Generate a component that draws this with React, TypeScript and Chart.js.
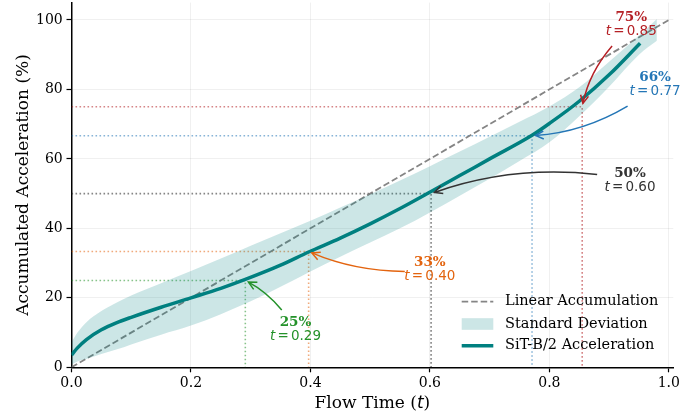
import { useEffect, useRef } from "react";
import { Chart, registerables } from "chart.js";

Chart.register(...registerables);

// ---------------- data ----------------
const curveT = [0, 0.01, 0.025, 0.05, 0.075, 0.1, 0.15, 0.2, 0.25, 0.291, 0.35, 0.397, 0.45, 0.5, 0.55, 0.602, 0.65, 0.7, 0.771, 0.8, 0.85, 0.9, 0.952];
const curveY = [3.5, 5.6, 8.0, 10.8, 12.8, 14.4, 17.3, 20.0, 22.75, 25.3, 29.4, 33.2, 37.2, 41.3, 45.7, 50.6, 55.2, 60.0, 66.8, 70.2, 76.6, 84.2, 93.3];

const bandT = [0, 0.01, 0.025, 0.05, 0.075, 0.1, 0.15, 0.2, 0.25, 0.3, 0.35, 0.4, 0.45, 0.5, 0.55, 0.6, 0.65, 0.7, 0.75, 0.8, 0.85, 0.9, 0.95, 0.98];
const bandUpper = [7.2, 10, 13, 16.2, 18.6, 20.7, 24.2, 27.7, 31.3, 35, 38.6, 42.2, 46, 49.8, 53.8, 57.9, 62.1, 66.4, 70.7, 75.1, 80.6, 88, 95.5, 100.3];
const bandLower = [0.8, 1.7, 2.4, 3.8, 5.1, 6.6, 9.4, 12.0, 15.3, 19.0, 23.2, 27.6, 31.8, 35.9, 40.0, 44.6, 49.4, 54.3, 59.4, 64.8, 72.3, 80.8, 90.0, 94.0];

const linearT = [0, 1];
const linearY = [0, 100];

const xTicks = [0, 0.2, 0.4, 0.6, 0.8, 1.0];
const yTicks = [0, 20, 40, 60, 80, 100];

const annPct = [25, 33.33, 50, 66.67, 75];
const annT = [0.291, 0.397, 0.602, 0.771, 0.855];
const annPctLabel = ["25%", "33%", "50%", "66%", "75%"];
const annTLabel = ["0.29", "0.40", "0.60", "0.77", "0.85"];

const seriesLabels = ["Linear Accumulation", "Standard Deviation", "SiT-B/2 Acceleration"];
const xTitleMain = "Flow Time (";
const xTitleVar = "t";
const xTitleEnd = ")";
const yTitle = "Accumulated Acceleration (%)";

// ---------------- styles / layout ----------------
const annColors = ["#24922a", "#e3640f", "#333333", "#2476b6", "#b52025"];
const annDotColors = [
  "rgba(36,146,42,0.55)",
  "rgba(227,100,15,0.55)",
  "rgba(51,51,51,0.6)",
  "rgba(36,118,182,0.55)",
  "rgba(181,32,37,0.55)",
];
const annTextX = [0.375, 0.6, 0.935, 0.977, 0.937];
const annTextY = [11, 28.3, 53.9, 81.4, 98.6];
const annTailX = [0.352, 0.558, 0.88, 0.931, 0.905];
const annTailY = [16.5, 27.6, 55.5, 75.2, 92.5];
const annRad = [0.1, -0.1, 0.115, -0.12, 0.13];

const TEAL = "#008080";
const BAND = "rgba(0,128,128,0.2)";
const DASH_GRAY = "rgba(120,120,120,0.9)";
const SERIF = '"DejaVu Serif", serif';
const SANS = '"DejaVu Sans", sans-serif';

const pts = (xs: number[], ys: number[]) => xs.map((x, i) => ({ x, y: ys[i] }));

const overlayPlugin = {
  id: "overlay",
  afterDatasetsDraw(chart: any) {
    const { ctx, chartArea, scales } = chart;
    const xs = scales.x;
    const ys = scales.y;
    ctx.save();

    // ---- annotations ----
    for (let i = 0; i < annPct.length; i++) {
      const color = annColors[i];
      const tx = xs.getPixelForValue(annTailX[i]);
      const ty = ys.getPixelForValue(annTailY[i]);
      const px = xs.getPixelForValue(annT[i]);
      const py = ys.getPixelForValue(annPct[i]);
      const dx = px - tx;
      const dy = py - ty;
      const cx = (tx + px) / 2 - annRad[i] * dy;
      const cy = (ty + py) / 2 + annRad[i] * dx;
      let ex = px - cx;
      let ey = py - cy;
      const el = Math.hypot(ex, ey);
      ex /= el;
      ey /= el;
      const hx = px - ex * 3.5;
      const hy = py - ey * 3.5;
      ctx.strokeStyle = color;
      ctx.lineWidth = 1.5;
      ctx.lineCap = "butt";
      ctx.beginPath();
      ctx.moveTo(tx, ty);
      ctx.quadraticCurveTo(cx, cy, hx, hy);
      ctx.stroke();
      const hl = 8;
      const hw = 4;
      ctx.beginPath();
      ctx.moveTo(hx - ex * hl - ey * hw, hy - ey * hl + ex * hw);
      ctx.lineTo(hx, hy);
      ctx.lineTo(hx - ex * hl + ey * hw, hy - ey * hl - ex * hw);
      ctx.stroke();

      const cxT = xs.getPixelForValue(annTextX[i]);
      const cyT = ys.getPixelForValue(annTextY[i]);
      ctx.fillStyle = color;
      ctx.textBaseline = "middle";
      ctx.textAlign = "center";
      ctx.font = `bold 13.5px ${SERIF}`;
      ctx.fillText(annPctLabel[i], cxT, cyT - 7);
      const fT = `italic 13.5px ${SANS}`;
      const fN = `13.5px ${SANS}`;
      ctx.font = fT;
      const wt = ctx.measureText("t").width;
      ctx.font = fN;
      const weq = ctx.measureText("=").width;
      const wn = ctx.measureText(annTLabel[i]).width;
      const gap = 2.2;
      const total = wt + gap + weq + gap + wn;
      let sx = cxT - total / 2;
      ctx.textAlign = "left";
      ctx.font = fT;
      ctx.fillText("t", sx, cyT + 7);
      sx += wt + gap;
      ctx.font = fN;
      ctx.fillText("=", sx, cyT + 7);
      sx += weq + gap;
      ctx.fillText(annTLabel[i], sx, cyT + 7);
    }

    // ---- legend ----
    const ds = chart.data.datasets;
    const lx0 = chartArea.right - 211.6;
    const lx1 = lx0 + 31.6;
    const ltx = lx0 + 43.3;
    const rows = [chartArea.bottom - 65.6, chartArea.bottom - 43.3, chartArea.bottom - 21.6];
    const entries = ds.filter((d: any) => d.legendKind);
    entries.forEach((d: any, k: number) => {
      const ry = rows[k];
      if (d.legendKind === "dash") {
        ctx.strokeStyle = d.borderColor;
        ctx.lineWidth = d.borderWidth;
        ctx.setLineDash(d.borderDash);
        ctx.beginPath();
        ctx.moveTo(lx0, ry);
        ctx.lineTo(lx1, ry);
        ctx.stroke();
        ctx.setLineDash([]);
      } else if (d.legendKind === "patch") {
        ctx.fillStyle = d.backgroundColor;
        ctx.fillRect(lx0, ry - 5.8, lx1 - lx0, 11.6);
      } else {
        ctx.strokeStyle = d.borderColor;
        ctx.lineWidth = d.borderWidth;
        ctx.beginPath();
        ctx.moveTo(lx0, ry);
        ctx.lineTo(lx1, ry);
        ctx.stroke();
      }
      ctx.fillStyle = "#000";
      ctx.font = `14.5px ${SERIF}`;
      ctx.textAlign = "left";
      ctx.textBaseline = "middle";
      ctx.fillText(d.label, ltx, ry);
    });

    // ---- axis titles ----
    ctx.fillStyle = "#000";
    ctx.textBaseline = "alphabetic";
    const fMain = `17px ${SERIF}`;
    const fVar = `italic 17px ${SANS}`;
    ctx.font = fMain;
    const wa = ctx.measureText(xTitleMain).width;
    const wc = ctx.measureText(xTitleEnd).width;
    ctx.font = fVar;
    const wb = ctx.measureText(xTitleVar).width;
    const xc = (chartArea.left + chartArea.right) / 2;
    let sx = xc - (wa + wb + wc) / 2;
    const by = chartArea.bottom + 41;
    ctx.textAlign = "left";
    ctx.font = fMain;
    ctx.fillText(xTitleMain, sx, by);
    sx += wa;
    ctx.font = fVar;
    ctx.fillText(xTitleVar, sx, by);
    sx += wb;
    ctx.font = fMain;
    ctx.fillText(xTitleEnd, sx, by);

    ctx.save();
    ctx.translate(28, (chartArea.top + chartArea.bottom) / 2);
    ctx.rotate(-Math.PI / 2);
    ctx.textAlign = "center";
    ctx.font = fMain;
    ctx.fillText(yTitle, 0, 0);
    ctx.restore();

    ctx.restore();
  },
};

export default function App() {
  const ref = useRef<HTMLCanvasElement | null>(null);

  useEffect(() => {
    document.body.style.margin = "0";
    if (!ref.current) return;

    const dottedSets = annPct.map((p, i) => ({
      label: "guide" + i,
      data: [
        { x: 0, y: p },
        { x: annT[i], y: p },
        { x: annT[i], y: 0 },
      ],
      borderColor: annDotColors[i],
      borderWidth: 1.6,
      borderDash: [1.6, 2.4],
      pointRadius: 0,
      tension: 0,
      fill: false,
      order: 10,
    }));

    const chart = new Chart(ref.current, {
      type: "line",
      data: {
        datasets: [
          ...dottedSets,
          {
            label: seriesLabels[0],
            legendKind: "dash",
            data: pts(linearT, linearY),
            borderColor: DASH_GRAY,
            borderWidth: 1.8,
            borderDash: [6.5, 3],
            pointRadius: 0,
            fill: false,
            order: 6,
          },
          {
            label: "lower",
            data: pts(bandT, bandLower),
            borderWidth: 0,
            borderColor: "rgba(0,0,0,0)",
            pointRadius: 0,
            cubicInterpolationMode: "monotone",
            fill: false,
            order: 5,
          },
          {
            label: seriesLabels[1],
            legendKind: "patch",
            data: pts(bandT, bandUpper),
            borderWidth: 0,
            borderColor: "rgba(0,0,0,0)",
            backgroundColor: BAND,
            pointRadius: 0,
            cubicInterpolationMode: "monotone",
            fill: "-1",
            order: 5,
          },
          {
            label: seriesLabels[2],
            legendKind: "line",
            data: pts(curveT, curveY),
            borderColor: TEAL,
            borderWidth: 3.5,
            pointRadius: 0,
            cubicInterpolationMode: "monotone",
            fill: false,
            order: 1,
          },
        ] as any,
      },
      options: {
        animation: false,
        responsive: false,
        devicePixelRatio: 1,
        layout: { autoPadding: false, padding: { top: 2.6, right: 7.7, bottom: 0, left: 0 } },
        plugins: {
          legend: { display: false },
          tooltip: { enabled: false },
        },
        scales: {
          x: {
            type: "linear",
            min: 0,
            max: 1.0075,
            afterBuildTicks: (s: any) => {
              s.ticks = xTicks.map((value) => ({ value }));
            },
            afterFit: (s: any) => {
              s.height = 51.7;
              s.paddingLeft = 0;
              s.paddingRight = 0;
            },
            ticks: {
              font: { family: SERIF, size: 14 },
              color: "#000",
              padding: 3,
              maxRotation: 0,
              autoSkip: false,
              callback: (v: any) => Number(v).toFixed(1),
            },
            grid: {
              color: "rgba(0,0,0,0.06)",
              lineWidth: 1,
              tickLength: 5,
              tickColor: "#000",
              tickWidth: 1.2,
            },
            border: { color: "#000", width: 1.5 },
          },
          y: {
            type: "linear",
            min: 0,
            max: 105,
            afterBuildTicks: (s: any) => {
              s.ticks = yTicks.map((value) => ({ value }));
            },
            afterFit: (s: any) => {
              s.width = 71.5;
              s.paddingTop = 0;
              s.paddingBottom = 0;
            },
            ticks: {
              font: { family: SERIF, size: 14 },
              color: "#000",
              padding: 3.8,
              callback: (v: any) => String(v),
            },
            grid: {
              color: "rgba(0,0,0,0.06)",
              lineWidth: 1,
              tickLength: 5,
              tickColor: "#000",
              tickWidth: 1.2,
            },
            border: { color: "#000", width: 1.5 },
          },
        },
      } as any,
      plugins: [overlayPlugin],
    });

    return () => chart.destroy();
  }, []);

  return (
    <div style={{ width: 681, height: 419, position: "relative" }}>
      <canvas ref={ref} width={681} height={419} style={{ display: "block" }} />
    </div>
  );
}
